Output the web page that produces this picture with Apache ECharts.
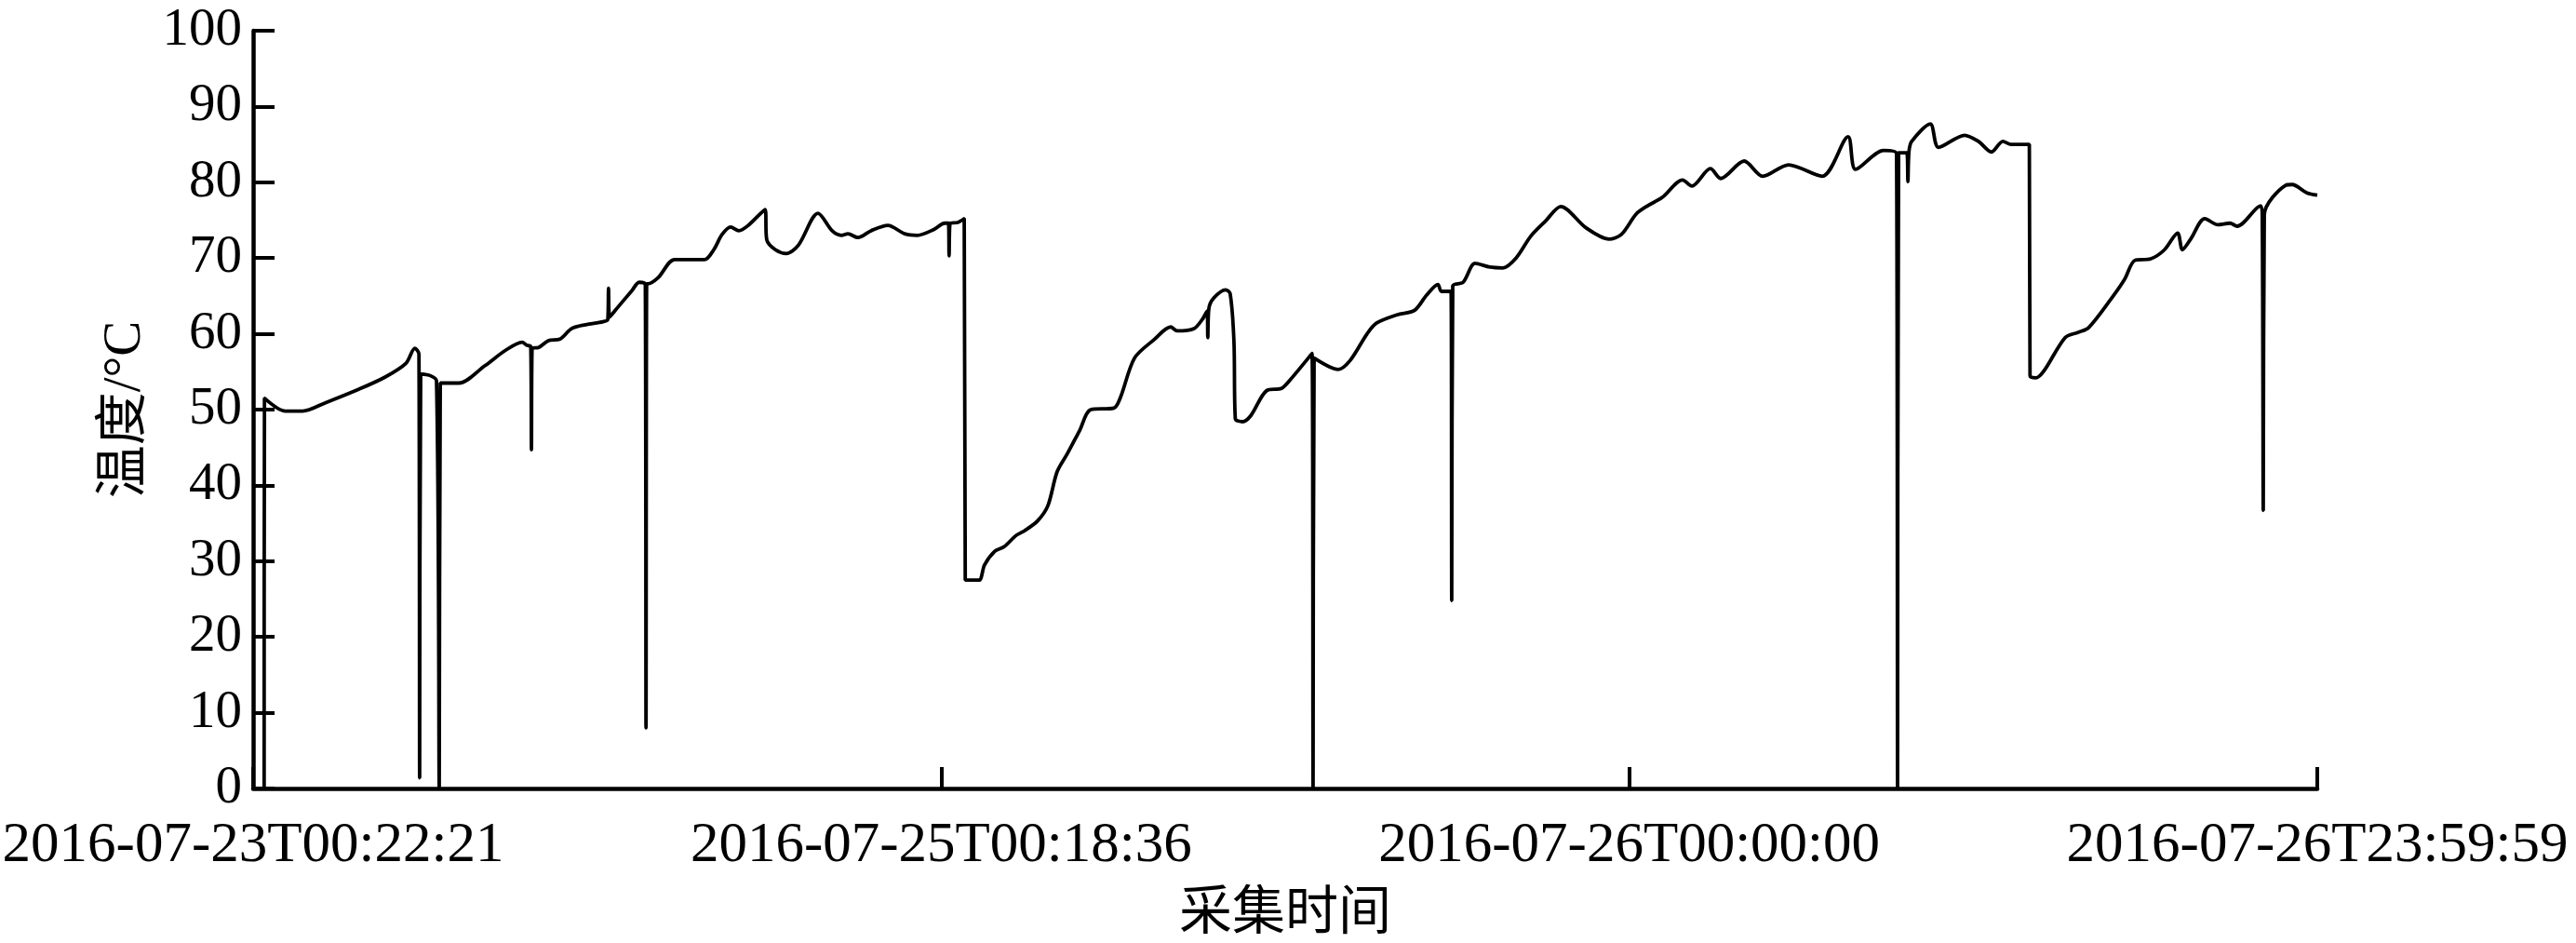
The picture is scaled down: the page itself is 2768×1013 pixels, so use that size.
<!DOCTYPE html>
<html>
<head>
<meta charset="utf-8">
<script src="https://cdn.jsdelivr.net/npm/echarts@6/dist/echarts.min.js"></script>
<style>
html,body{margin:0;padding:0;background:#fff;}
#chart{width:2768px;height:1013px;}
</style>
</head>
<body>
<div id="chart"></div>
<script>
// x tick labels (acquisition time) placed at sample positions 0,1000,2000,3000
const xTickLabels = ['2016-07-23T00:22:21', '2016-07-25T00:18:36', '2016-07-26T00:00:00', '2016-07-26T23:59:59'];
const yTicks = [0, 10, 20, 30, 40, 50, 60, 70, 80, 90, 100];

// sample position along the acquisition axis
const samplePos = [
  16, 16.5, 47, 72, 105, 154, 192, 222, 235, 241, 242, 243.5, 257, 266.5, 270.5, 272, 299, 337, 366.5, 391,
  397.5, 403.5, 404.5, 405.5, 415, 429, 446, 463, 483, 508.5, 515.5, 516.5, 518, 530, 550.5, 561, 570, 571, 572, 573.5,
  588.5, 612.5, 656, 669.5, 681.5, 694, 706, 719.5, 744, 746.5, 759, 775, 792.5, 821, 841.5, 855, 864.5, 879, 898, 922.5,
  947, 965.5, 990, 1005, 1010.5, 1011.5, 1013, 1024, 1033.5, 1035, 1055, 1063, 1078, 1091.5, 1109, 1121, 1140, 1155, 1168.5, 1183.5,
  1201, 1217.5, 1251, 1260.5, 1281, 1309, 1333.5, 1343, 1367.5, 1379.5, 1386.5, 1387.5, 1389, 1396, 1413.5, 1420, 1425.5, 1427.5, 1438, 1450,
  1473, 1494.5, 1507, 1539, 1540.5, 1542, 1577, 1594.5, 1619, 1632.5, 1662.5, 1688, 1705.5, 1722, 1727, 1741, 1742, 1743.5, 1758.5, 1776,
  1797.5, 1816.5, 1835.5, 1857, 1878.5, 1900.5, 1937, 1970.5, 1988.5, 2010, 2025, 2048, 2077.5, 2091, 2118, 2133, 2167, 2194, 2231.5, 2280.5,
  2318, 2329, 2369.5, 2388.5, 2390, 2391.5, 2403.5, 2405, 2406.5, 2410.5, 2437.5, 2449.5, 2487.5, 2507.5, 2526.5, 2543, 2555, 2581.5, 2582.5, 2591.5,
  2603.5, 2633.5, 2652.5, 2667.5, 2701, 2720, 2735, 2758, 2778, 2797, 2804, 2816, 2836.5, 2855.5, 2873, 2883.5, 2917.5, 2920, 2921.5, 2923,
  2954, 2963.5, 2985, 3000
];

// temperature in °C
const temperature = [
  0, 51.5, 49.8, 49.8, 50.9, 52.7, 54.3, 56.1, 58.1, 57.3, 1.4, 54.7, 54.5, 53.8, 0, 53.5, 53.5, 55.8, 57.8, 58.9,
  58.5, 58.3, 44.7, 58.1, 58.2, 59.1, 59.3, 60.7, 61.2, 61.6, 61.9, 66.0, 62.2, 63.5, 65.7, 66.8, 66.5, 8.0, 66.6, 66.6,
  67.4, 69.8, 69.8, 71.1, 73.1, 74.1, 73.6, 74.3, 76.4, 72.4, 71.1, 70.6, 71.7, 75.9, 73.6, 73.0, 73.2, 72.7, 73.6, 74.3,
  73.2, 73.0, 73.8, 74.6, 74.6, 70.3, 74.6, 74.7, 75.2, 27.5, 27.5, 29.5, 31.3, 31.9, 33.4, 34.0, 35.3, 37.3, 41.8, 44.2,
  47.2, 50.0, 50.2, 51.6, 56.8, 59.2, 60.9, 60.4, 60.7, 61.9, 63.0, 59.5, 63.3, 64.7, 65.8, 65.3, 59.0, 48.8, 48.4, 49.2,
  52.5, 52.8, 53.9, 57.4, 0, 56.8, 55.3, 56.5, 60.0, 61.4, 62.5, 63.1, 65.1, 66.5, 65.6, 65.6, 24.8, 66.3, 66.8, 69.3,
  68.8, 68.7, 70.0, 72.9, 74.9, 76.8, 74.0, 72.5, 73.1, 75.8, 76.8, 78.0, 80.3, 79.5, 81.8, 80.5, 82.8, 80.8, 82.3, 80.8,
  86.0, 81.7, 84.2, 83.8, 0, 83.9, 83.9, 80.1, 84.0, 85.4, 87.7, 84.6, 86.2, 85.4, 84.0, 85.4, 85.0, 85.0, 54.5, 54.2,
  55.2, 59.5, 60.2, 60.8, 64.7, 67.2, 69.7, 69.9, 71.1, 73.3, 71.1, 72.5, 75.2, 74.4, 74.6, 74.2, 76.9, 75.6, 36.7, 75.7,
  79.6, 79.7, 78.6, 78.3
];

const seriesData = samplePos.map((x, i) => [x, temperature[i]]);

const serif = '"Liberation Serif", "Times New Roman", "Noto Sans CJK SC", serif';

const chart = echarts.init(document.getElementById('chart'), null, {renderer: 'canvas'});
chart.setOption({
  animation: false,
  backgroundColor: '#ffffff',
  grid: {left: 272, right: 278, top: 33, bottom: 166, containLabel: false, outerBoundsMode: 'none'},
  xAxis: {
    type: 'value',
    min: 0,
    max: 3000,
    interval: 1000,
    name: '采集时间',
    nameLocation: 'middle',
    nameGap: 108,
    nameTextStyle: {fontFamily: serif, fontSize: 57, color: '#000'},
    axisLine: {show: true, onZero: false, lineStyle: {color: '#000', width: 4.5}},
    axisTick: {show: true, inside: true, length: 23, lineStyle: {color: '#000', width: 4}},
    axisLabel: {
      show: true, margin: 31, fontFamily: serif, fontSize: 61, color: '#000',
      showMinLabel: true, showMaxLabel: true,
      formatter: v => xTickLabels[Math.round(v / 1000)]
    },
    splitLine: {show: false}
  },
  yAxis: {
    type: 'value',
    min: yTicks[0],
    max: yTicks[yTicks.length - 1],
    interval: 10,
    name: '温度/°C',
    nameLocation: 'middle',
    nameGap: 99,
    nameTextStyle: {fontFamily: serif, fontSize: 57, color: '#000'},
    axisLine: {show: true, onZero: false, lineStyle: {color: '#000', width: 4.5}},
    axisTick: {show: true, inside: true, length: 23, lineStyle: {color: '#000', width: 4}},
    axisLabel: {show: true, margin: 12, fontFamily: serif, fontSize: 57, color: '#000'},
    splitLine: {show: false}
  },
  series: [{
    type: 'line',
    data: seriesData,
    showSymbol: false,
    symbol: 'none',
    smooth: 0.3,
    lineStyle: {color: '#000', width: 3.8},
    clip: false
  }]
});
</script>
</body>
</html>
